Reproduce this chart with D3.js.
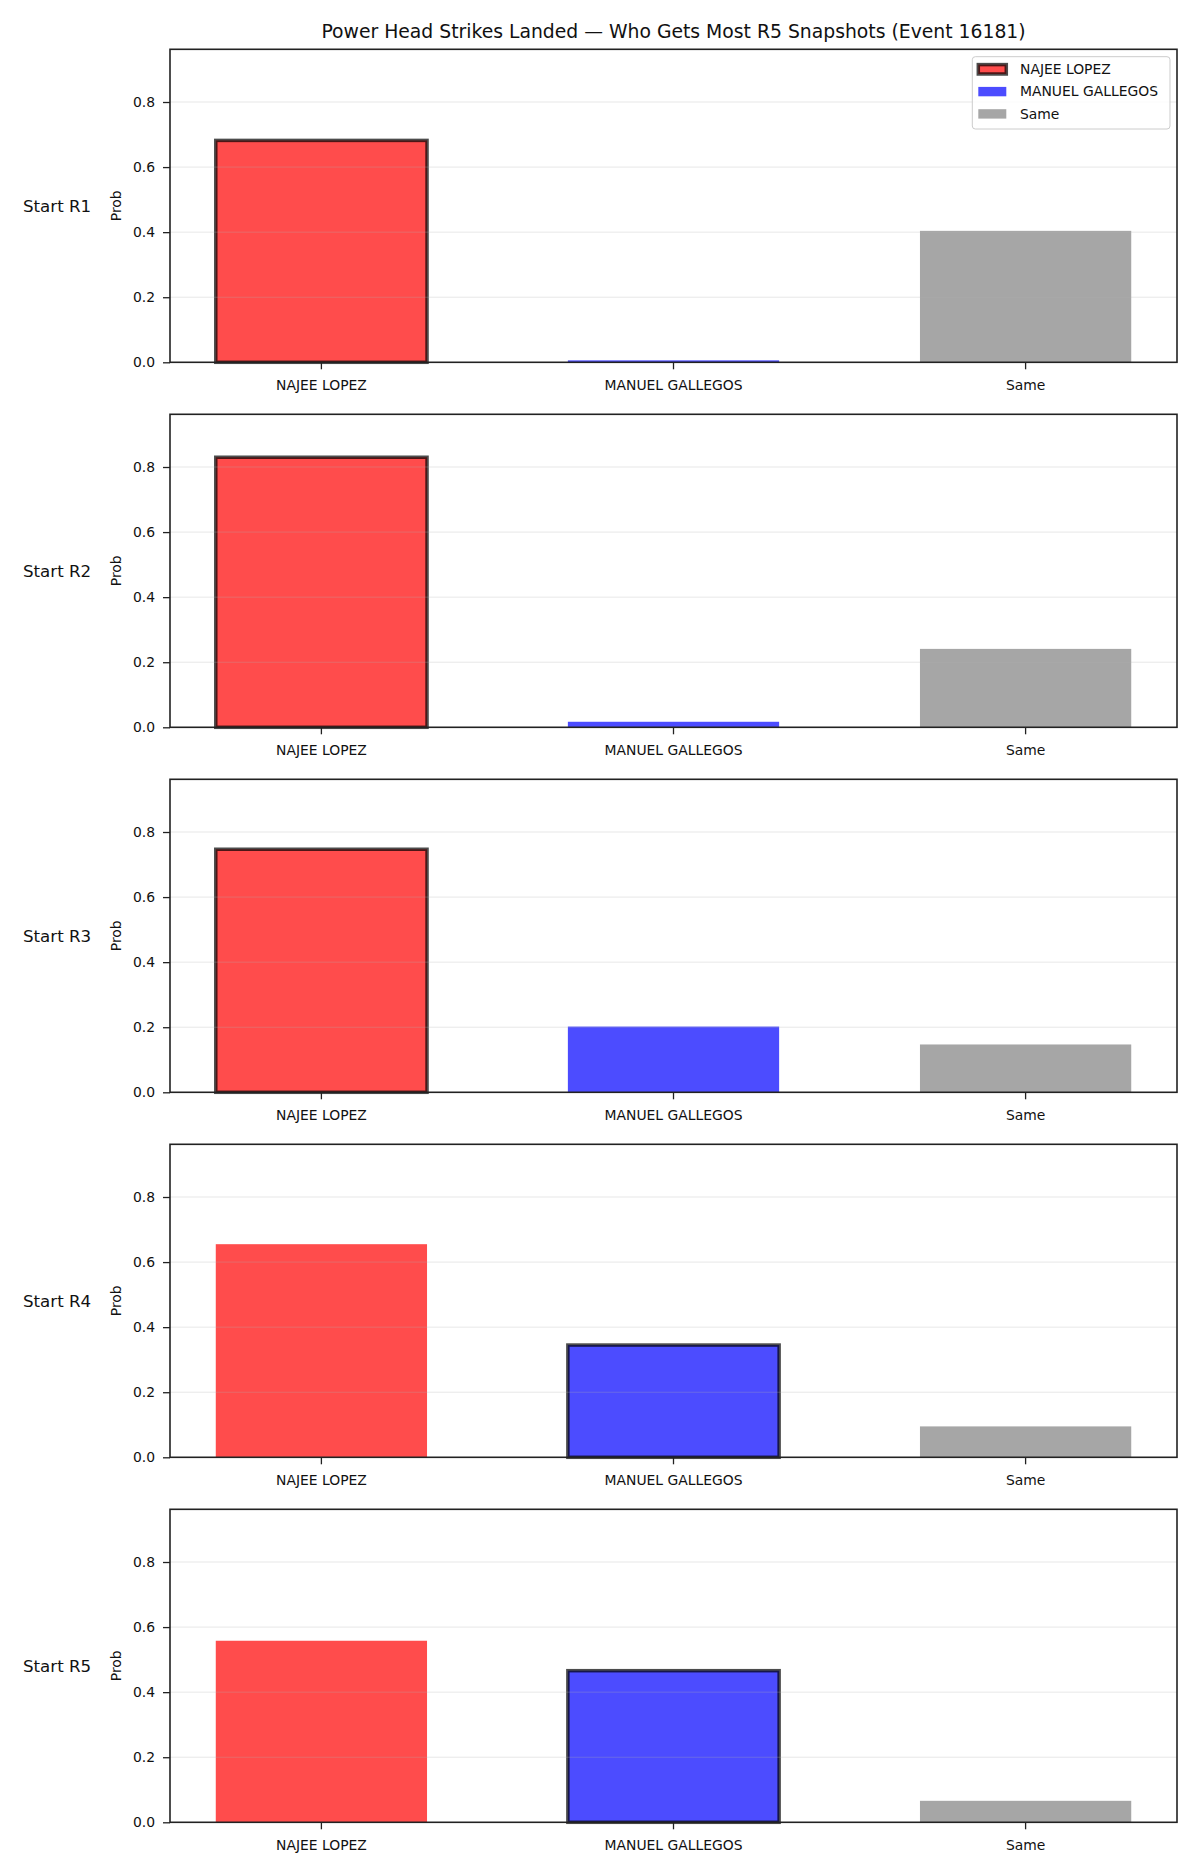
<!DOCTYPE html>
<html>
<head>
<meta charset="utf-8">
<script src="https://cdn.jsdelivr.net/npm/d3@7"></script>
<style>
    body { margin: 0; background: white; }
    svg { display: block; font-family: "DejaVu Sans", sans-serif; }
</style>
</head>
<body>
<svg id="chart" width="1200" height="1875"></svg>
<script>
//data
const categories = ["NAJEE LOPEZ", "MANUEL GALLEGOS", "Same"];
const rounds = ["Start R1", "Start R2", "Start R3", "Start R4", "Start R5"];
const najeeProb = [0.682, 0.830, 0.747, 0.655, 0.558];
const manuelProb = [0.006, 0.017, 0.202, 0.345, 0.466];
const sameProb = [0.404, 0.241, 0.147, 0.095, 0.066];
//fighter with the outlined bar at each snapshot
const leader = ["NAJEE LOPEZ", "NAJEE LOPEZ", "NAJEE LOPEZ", "MANUEL GALLEGOS", "MANUEL GALLEGOS"];
const yTicks = [0, 0.2, 0.4, 0.6, 0.8];
const yMax = 0.962;

const svg = d3.select("#chart");

const margin = { top: 49.3, left: 170 };
const width = 1007;
const height = 313;
const panelStep = 365;

const color = d3.scaleOrdinal()
    .domain(categories)
    .range(["#ff0000", "#0000ff", "#808080"]);

const x = d3.scaleBand()
    .domain(categories)
    .range([0, width])
    .paddingInner(0.4)
    .paddingOuter(0.13);

const y = d3.scaleLinear()
    .domain([0, yMax])
    .range([height, 0]);

rounds.forEach((round, i) => {
    const rows = [
        { key: categories[0], value: najeeProb[i] },
        { key: categories[1], value: manuelProb[i] },
        { key: categories[2], value: sameProb[i] }
    ];

    const g = svg.append("g")
        .attr("transform", `translate(${margin.left},${margin.top + i * panelStep})`);

    //bars, the leader gets a dark outline
    g.selectAll("rect.bar")
        .data(rows)
        .enter()
        .append("rect")
        .attr("class", "bar")
        .attr("x", d => x(d.key))
        .attr("y", d => y(d.value))
        .attr("width", x.bandwidth())
        .attr("height", d => y(0) - y(d.value))
        .attr("fill", d => color(d.key))
        .attr("fill-opacity", 0.7)
        .attr("stroke", d => d.key === leader[i] ? "#000" : "none")
        .attr("stroke-opacity", 0.7)
        .attr("stroke-width", 3.5);

    //horizontal grid, drawn over the bars
    g.append("g")
        .selectAll("line")
        .data(yTicks.slice(1))
        .enter()
        .append("line")
        .attr("x1", 0)
        .attr("x2", width)
        .attr("y1", d => y(d))
        .attr("y2", d => y(d))
        .attr("stroke", "#b0b0b0")
        .attr("stroke-opacity", 0.3)
        .attr("stroke-width", 1);

    //axes
    const yAxis = g.append("g")
        .call(d3.axisLeft(y).tickValues(yTicks).tickFormat(d3.format(".1f")).tickSize(7).tickPadding(8));

    const xAxis = g.append("g")
        .attr("transform", `translate(0,${height})`)
        .call(d3.axisBottom(x).tickSize(7).tickPadding(8));

    [yAxis, xAxis].forEach(a => {
        a.select(".domain").remove();
        a.selectAll(".tick line").attr("stroke", "#222").attr("stroke-width", 1.3);
        a.selectAll(".tick text")
            .attr("fill", "#111")
            .style("font-family", "DejaVu Sans")
            .style("font-size", "13.9px");
    });
    yAxis.selectAll(".tick text").attr("dy", "0.33em");
    xAxis.selectAll(".tick text").attr("y", 27.5).attr("dy", null);

    //frame
    g.append("rect")
        .attr("width", width)
        .attr("height", height)
        .attr("fill", "none")
        .attr("stroke", "#222")
        .attr("stroke-width", 1.6);

    //y label
    g.append("text")
        .attr("transform", `translate(-49,${height / 2}) rotate(-90)`)
        .attr("text-anchor", "middle")
        .attr("fill", "#111")
        .style("font-size", "13.9px")
        .text("Prob");

    //row label
    g.append("text")
        .attr("x", 23 - margin.left)
        .attr("y", height / 2)
        .attr("dy", "0.35em")
        .attr("fill", "#111")
        .style("font-size", "16.67px")
        .text(round);

    //title and legend on the first panel only
    if (i === 0) {
        g.append("text")
            .attr("x", width / 2)
            .attr("y", -11.5)
            .attr("text-anchor", "middle")
            .attr("fill", "#111")
            .style("font-size", "18.8px")
            .text("Power Head Strikes Landed \u2014 Who Gets Most R5 Snapshots (Event 16181)");

        const legend = g.append("g")
            .attr("transform", `translate(${972.3 - margin.left}, ${56.7 - margin.top})`);

        legend.append("rect")
            .attr("width", 197.7)
            .attr("height", 72.3)
            .attr("rx", 3)
            .attr("fill", "white")
            .attr("fill-opacity", 0.8)
            .attr("stroke", "#cccccc")
            .attr("stroke-width", 1);

        const legendRow = 22.3;

        legend.selectAll("rect.swatch")
            .data(categories)
            .enter()
            .append("rect")
            .attr("class", "swatch")
            .attr("x", 6)
            .attr("y", (d, j) => 12.6 + j * legendRow - 4.7)
            .attr("width", 28)
            .attr("height", 9.4)
            .attr("fill", d => color(d))
            .attr("fill-opacity", 0.7)
            .attr("stroke", d => d === leader[0] ? "#000" : "none")
            .attr("stroke-opacity", 0.7)
            .attr("stroke-width", 3.5);

        legend.selectAll("text")
            .data(categories)
            .enter()
            .append("text")
            .attr("x", 47.7)
            .attr("y", (d, j) => 12.6 + j * legendRow)
            .attr("dy", "0.35em")
            .attr("fill", "#111")
            .style("font-size", "13.9px")
            .text(d => d);
    }
});
</script>
</body>
</html>
